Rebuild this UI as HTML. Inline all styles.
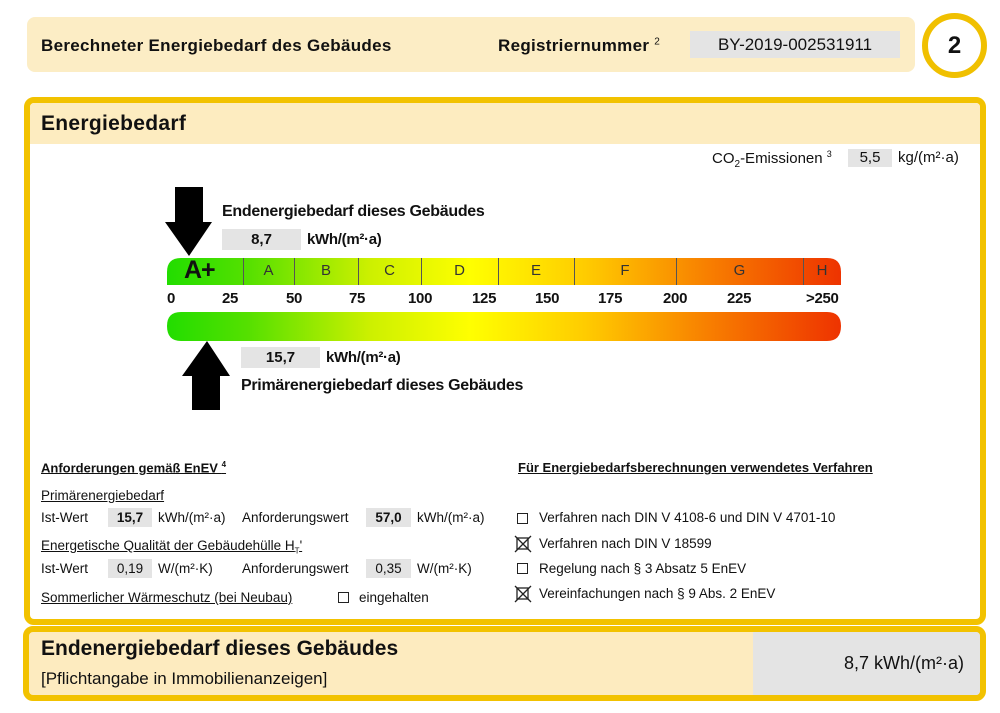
<!DOCTYPE html>
<html><head><meta charset="utf-8"><style>
*{margin:0;padding:0;box-sizing:border-box}
body{width:1000px;height:713px;background:#fff;position:relative;overflow:hidden;font-family:"Liberation Sans",Arial,sans-serif;color:#111}
.a{position:absolute;white-space:nowrap}
.g{background:#e4e4e4}
.u{text-decoration:underline}
.cb{position:absolute;width:11px;height:11px;border:1.3px solid #222}
.tk{position:absolute;top:258px;width:1px;height:27px;background:#555}
.lt{position:absolute;top:262px;font-size:15px;color:#333;text-align:center}
.num{position:absolute;top:290px;font-size:15px;font-weight:bold;letter-spacing:-0.3px}
</style></head><body>
<div class="a" style="left:27px;top:17px;width:888px;height:55px;background:#fcedc5;border-radius:8px"></div>
<div class="a" style="left:41px;top:36px;font-size:17px;font-weight:bold;letter-spacing:0.3px">Berechneter Energiebedarf des Gebäudes</div>
<div class="a" style="left:498px;top:36px;font-size:17px;font-weight:bold;letter-spacing:0.3px">Registriernummer <sup style="font-size:10px;font-weight:normal">2</sup></div>
<div class="a g" style="left:690px;top:31px;width:210px;height:27px;font-size:17px;text-align:center;line-height:27px">BY-2019-002531911</div>
<div class="a" style="left:922px;top:13px;width:65px;height:65px;border:6px solid #f0c000;border-radius:50%;text-align:center;line-height:53px;font-size:24px;font-weight:bold">2</div>

<div class="a" style="left:24px;top:97px;width:962px;height:528px;border:6px solid #f2c200;border-radius:10px;background:#fff"></div>
<div class="a" style="left:30px;top:103px;width:950px;height:41px;background:#fdecc0;border-radius:4px 4px 0 0"></div>
<div class="a" style="left:41px;top:112px;font-size:21px;font-weight:bold;letter-spacing:0.3px">Energiebedarf</div>
<div class="a" style="left:712px;top:149px;font-size:15px">CO<sub style="font-size:10px">2</sub>-Emissionen <sup style="font-size:9px">3</sup></div>
<div class="a g" style="left:848px;top:149px;width:44px;height:18px;font-size:15px;text-align:center;line-height:18px">5,5</div>
<div class="a" style="left:898px;top:149px;font-size:15px">kg/(m²·a)</div>

<svg class="a" style="left:0;top:0" width="1000" height="713">
<polygon points="175,187 203,187 203,222 212,222 189,256 165,222 175,222" fill="#000"/>
<polygon points="192,410 220,410 220,376 230,376 207,341 182,376 192,376" fill="#000"/>
<defs><linearGradient id="gr" x1="0" x2="1" y1="0" y2="0">
<stop offset="0" stop-color="#22dd00"/><stop offset="0.12" stop-color="#55e000"/><stop offset="0.3" stop-color="#ccf000"/><stop offset="0.45" stop-color="#ffff00"/><stop offset="0.62" stop-color="#ffcc00"/><stop offset="0.8" stop-color="#f88000"/><stop offset="1" stop-color="#ee3300"/></linearGradient></defs>
<path d="M181,258 H827 Q841,258 841,272 V285 H167 V272 Q167,258 181,258Z" fill="url(#gr)"/>
<path d="M181,312 H827 Q841,312 841,326 Q841,341 827,341 H181 Q167,341 167,326 Q167,312 181,312Z" fill="url(#gr)"/>
</svg>
<div class="a" style="left:222px;top:203px;font-size:16px;font-weight:bold;letter-spacing:-0.3px">Endenergiebedarf dieses Gebäudes</div>
<div class="a g" style="left:222px;top:229px;width:79px;height:21px;font-size:15px;font-weight:bold;text-align:center;line-height:21px">8,7</div>
<div class="a" style="left:307px;top:231px;font-size:15px;font-weight:bold;letter-spacing:-0.3px">kWh/(m²·a)</div>
<div class="a g" style="left:241px;top:347px;width:79px;height:21px;font-size:15px;font-weight:bold;text-align:center;line-height:21px">15,7</div>
<div class="a" style="left:326px;top:349px;font-size:15px;font-weight:bold;letter-spacing:-0.3px">kWh/(m²·a)</div>
<div class="a" style="left:241px;top:377px;font-size:16px;font-weight:bold;letter-spacing:-0.3px">Primärenergiebedarf dieses Gebäudes</div>

<div class="tk" style="left:243px"></div><div class="tk" style="left:294px"></div><div class="tk" style="left:358px"></div><div class="tk" style="left:421px"></div><div class="tk" style="left:498px"></div><div class="tk" style="left:574px"></div><div class="tk" style="left:676px"></div><div class="tk" style="left:803px"></div>
<div class="a" style="left:184px;top:256px;font-size:25px;font-weight:bold;letter-spacing:-1px">A+</div>
<div class="lt" style="left:243px;width:51px">A</div><div class="lt" style="left:294px;width:64px">B</div><div class="lt" style="left:358px;width:63px">C</div><div class="lt" style="left:421px;width:77px">D</div><div class="lt" style="left:498px;width:76px">E</div><div class="lt" style="left:574px;width:102px">F</div><div class="lt" style="left:676px;width:127px">G</div><div class="lt" style="left:803px;width:38px">H</div>
<div class="num" style="left:167px">0</div><div class="num" style="left:222px">25</div><div class="num" style="left:286px">50</div><div class="num" style="left:349px">75</div><div class="num" style="left:408px">100</div><div class="num" style="left:472px">125</div><div class="num" style="left:535px">150</div><div class="num" style="left:598px">175</div><div class="num" style="left:663px">200</div><div class="num" style="left:727px">225</div><div class="num" style="left:806px">&gt;250</div>

<div class="a u" style="left:41px;top:460px;font-size:13px;font-weight:bold">Anforderungen gemäß EnEV <sup style="font-size:8px">4</sup></div>
<div class="a u" style="left:41px;top:488px;font-size:13.5px">Primärenergiebedarf</div>
<div class="a" style="left:41px;top:510px;font-size:13.5px">Ist-Wert</div>
<div class="a g" style="left:108px;top:508px;width:44px;height:19px;font-size:13.5px;font-weight:bold;text-align:center;line-height:19px">15,7</div>
<div class="a" style="left:158px;top:510px;font-size:13.5px">kWh/(m²·a)</div>
<div class="a" style="left:242px;top:510px;font-size:13.5px">Anforderungswert</div>
<div class="a g" style="left:366px;top:508px;width:45px;height:19px;font-size:13.5px;font-weight:bold;text-align:center;line-height:19px">57,0</div>
<div class="a" style="left:417px;top:510px;font-size:13.5px">kWh/(m²·a)</div>
<div class="a u" style="left:41px;top:538px;font-size:13.5px">Energetische Qualität der Gebäudehülle H<sub style="font-size:8px">T</sub>'</div>
<div class="a" style="left:41px;top:561px;font-size:13.5px">Ist-Wert</div>
<div class="a g" style="left:108px;top:559px;width:44px;height:19px;font-size:13.5px;text-align:center;line-height:19px">0,19</div>
<div class="a" style="left:158px;top:561px;font-size:13.5px">W/(m²·K)</div>
<div class="a" style="left:242px;top:561px;font-size:13.5px">Anforderungswert</div>
<div class="a g" style="left:366px;top:559px;width:45px;height:19px;font-size:13.5px;text-align:center;line-height:19px">0,35</div>
<div class="a" style="left:417px;top:561px;font-size:13.5px">W/(m²·K)</div>
<div class="a u" style="left:41px;top:590px;font-size:13.5px">Sommerlicher Wärmeschutz (bei Neubau)</div>
<div class="cb" style="left:338px;top:592px"></div>
<div class="a" style="left:359px;top:590px;font-size:13.5px">eingehalten</div>

<div class="a u" style="left:518px;top:460px;font-size:13px;font-weight:bold">Für Energiebedarfsberechnungen verwendetes Verfahren</div>
<div class="cb" style="left:517px;top:513px"></div>
<div class="a" style="left:539px;top:510px;font-size:13.5px">Verfahren nach DIN V 4108-6 und DIN V 4701-10</div>
<svg class="a" style="left:514px;top:535px" width="18" height="18"><rect x="3" y="3" width="11" height="11" fill="none" stroke="#222" stroke-width="1.3"/><path d="M1,1 L17,17 M17,1 L1,17" stroke="#222" stroke-width="1.3"/></svg>
<div class="a" style="left:539px;top:536px;font-size:13.5px">Verfahren nach DIN V 18599</div>
<div class="cb" style="left:517px;top:563px"></div>
<div class="a" style="left:539px;top:561px;font-size:13.5px">Regelung nach § 3 Absatz 5 EnEV</div>
<svg class="a" style="left:514px;top:585px" width="18" height="18"><rect x="3" y="3" width="11" height="11" fill="none" stroke="#222" stroke-width="1.3"/><path d="M1,1 L17,17 M17,1 L1,17" stroke="#222" stroke-width="1.3"/></svg>
<div class="a" style="left:539px;top:586px;font-size:13.5px">Vereinfachungen nach § 9 Abs. 2 EnEV</div>

<div class="a" style="left:23px;top:626px;width:963px;height:75px;border:6px solid #f2c200;border-radius:10px;background:#fdebbf;overflow:hidden"><div style="position:absolute;left:724px;top:0;right:0;bottom:0;background:#e4e4e4"></div></div>
<div class="a" style="left:41px;top:637px;font-size:21px;font-weight:bold">Endenergiebedarf dieses Gebäudes</div>
<div class="a" style="left:41px;top:669px;font-size:17px">[Pflichtangabe in Immobilienanzeigen]</div>
<div class="a" style="left:844px;top:653px;font-size:18px">8,7 kWh/(m²·a)</div>
</body></html>
